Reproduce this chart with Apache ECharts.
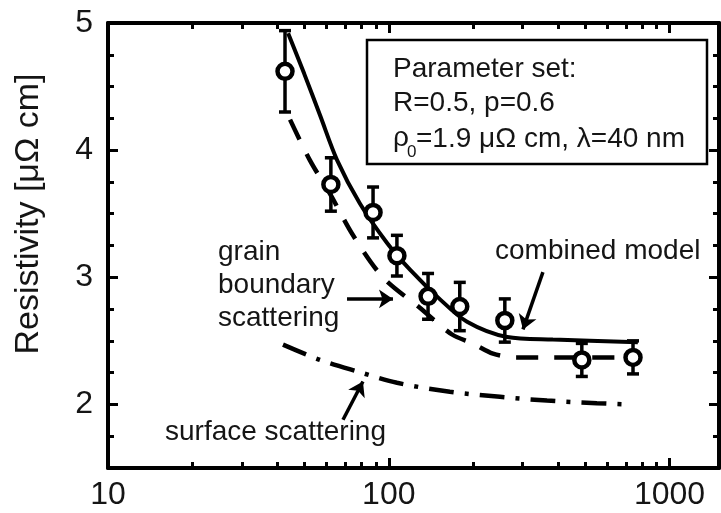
<!DOCTYPE html>
<html>
<head>
<meta charset="utf-8">
<script src="https://cdn.jsdelivr.net/npm/echarts@6/dist/echarts.min.js"></script>
<style>
  html, body { margin: 0; padding: 0; background: #fff; }
  #chart { width: 721px; height: 513px; }
</style>
</head>
<body>
<div id="chart"></div>
<script>
// measured film data (thickness in nm, resistivity in µΩ cm)
const sizeNm = [42.7, 62.2, 87.9, 106.9, 138, 179, 259, 487, 741];
const rhoMeas = [4.62, 3.73, 3.51, 3.17, 2.85, 2.77, 2.66, 2.35, 2.37];
const rhoErr = [0.32, 0.21, 0.20, 0.16, 0.18, 0.19, 0.17, 0.13, 0.13];

// model curves
const combinedX = [43.8, 50, 57, 65.5, 78.9, 98.6, 119, 150, 190, 264, 384, 771];
const combinedY = [4.92, 4.60, 4.27, 3.92, 3.58, 3.27, 3.06, 2.84, 2.65, 2.53, 2.51, 2.49];
const grainX = [44.5, 52.4, 62, 74.6, 95.3, 129, 168, 199, 235, 281, 391, 665, 770];
const grainY = [4.24, 3.92, 3.65, 3.33, 3.00, 2.76, 2.55, 2.48, 2.40, 2.37, 2.37, 2.37, 2.36];
const surfaceX = [42, 56.9, 77, 107, 165, 249, 366, 551, 705];
const surfaceY = [2.47, 2.35, 2.26, 2.17, 2.10, 2.06, 2.03, 2.01, 2.00];

// axis ticks
const xMajor = [10, 100, 1000];
const xMinor = [20, 30, 40, 50, 60, 70, 80, 90, 200, 300, 400, 500, 600, 700, 800, 900];
const yMajor = [2, 3, 4, 5];
const yMinor = [1.75, 2.25, 2.5, 2.75, 3.25, 3.5, 3.75, 4.25, 4.5, 4.75];

// annotation arrows [fromX, fromY, toX, toY]
const arrows = [
  [71, 2.83, 103.5, 2.83],
  [354, 3.04, 300.6, 2.59],
  [68.7, 1.88, 80.9, 2.18]
];

const lg = v => Math.log10(v);
const FONT = '"Liberation Sans", Arial, sans-serif';
const INK = '#151515';

function zip(xs, ys) {
  return xs.map((x, i) => [lg(x), ys[i]]);
}

function xAxisOf(position, ticks, len, withLine, withLabel) {
  return {
    type: 'value', position: position, min: 1, max: lg(1500),
    splitLine: { show: false },
    axisLine: { show: withLine, lineStyle: { color: '#000', width: 4 } },
    axisTick: { show: true, inside: true, length: len, customValues: ticks.map(lg),
      lineStyle: { color: '#000', width: 3 } },
    axisLabel: withLabel ? {
      show: true, customValues: ticks.map(lg), margin: 11,
      fontSize: 32, fontFamily: FONT, color: INK,
      formatter: v => String(Math.round(Math.pow(10, v)))
    } : { show: false }
  };
}

function yAxisOf(position, ticks, len, withLine, withLabel) {
  return {
    type: 'value', position: position, min: 1.5, max: 5,
    splitLine: { show: false },
    axisLine: { show: withLine, lineStyle: { color: '#000', width: 4 } },
    axisTick: { show: true, inside: true, length: len, customValues: ticks,
      lineStyle: { color: '#000', width: 3 } },
    axisLabel: withLabel ? {
      show: true, customValues: ticks, margin: 15,
      fontSize: 32, fontFamily: FONT, color: INK
    } : { show: false }
  };
}

const chart = echarts.init(document.getElementById('chart'));

const option = {
  animation: false,
  backgroundColor: '#fff',
  grid: { left: 108, top: 23, right: 2, bottom: 45, containLabel: false, outerBoundsMode: 'none' },
  xAxis: [
    xAxisOf('bottom', xMajor, 10, true, true),
    xAxisOf('bottom', xMinor, 6, false, false),
    xAxisOf('top', xMajor, 10, true, false),
    xAxisOf('top', xMinor, 6, false, false)
  ],
  yAxis: [
    yAxisOf('left', yMajor, 10, true, true),
    yAxisOf('left', yMinor, 6, false, false),
    yAxisOf('right', yMajor, 10, true, false),
    yAxisOf('right', yMinor, 6, false, false)
  ],
  series: [
    {
      name: 'combined model', type: 'line', data: zip(combinedX, combinedY),
      showSymbol: false, smooth: 0.3, z: 3,
      lineStyle: { color: '#000', width: 4 },
      markLine: {
        silent: true, animation: false,
        symbol: ['none', 'arrow'], symbolSize: 14,
        label: { show: false },
        lineStyle: { color: '#000', width: 3.5, type: 'solid' },
        data: arrows.map(a => [{ coord: [lg(a[0]), a[1]] }, { coord: [lg(a[2]), a[3]] }])
      }
    },
    {
      name: 'grain boundary scattering', type: 'line', data: zip(grainX, grainY),
      showSymbol: false, smooth: 0.3, z: 3,
      lineStyle: { color: '#000', width: 4.5, type: [22, 16] }
    },
    {
      name: 'surface scattering', type: 'line', data: zip(surfaceX, surfaceY),
      showSymbol: false, smooth: 0.3, z: 3,
      lineStyle: { color: '#000', width: 4.5, type: [25, 11, 4, 11] }
    },
    {
      name: 'error', type: 'custom', z: 4,
      data: sizeNm.map((x, i) => [lg(x), rhoMeas[i] - rhoErr[i], rhoMeas[i] + rhoErr[i]]),
      encode: { x: 0, y: [1, 2] },
      renderItem: function (params, api) {
        const x = api.value(0);
        const lo = api.coord([x, api.value(1)]);
        const hi = api.coord([x, api.value(2)]);
        const w = 6;
        const st = { stroke: '#000', lineWidth: 3.5 };
        return {
          type: 'group',
          children: [
            { type: 'line', shape: { x1: lo[0], y1: lo[1], x2: hi[0], y2: hi[1] }, style: st },
            { type: 'line', shape: { x1: lo[0] - w, y1: lo[1], x2: lo[0] + w, y2: lo[1] }, style: st },
            { type: 'line', shape: { x1: hi[0] - w, y1: hi[1], x2: hi[0] + w, y2: hi[1] }, style: st }
          ]
        };
      }
    },
    {
      name: 'measured', type: 'scatter', z: 5,
      data: zip(sizeNm, rhoMeas),
      symbol: 'circle', symbolSize: 15,
      itemStyle: { color: '#fff', borderColor: '#000', borderWidth: 4.5, opacity: 1 }
    }
  ],
  graphic: [
    {
      type: 'text', x: 29, y: 214, rotation: Math.PI / 2,
      style: { text: 'Resistivity [\u03bc\u03a9 cm]', font: '34px ' + FONT, fill: INK,
        align: 'center', verticalAlign: 'middle' }
    },
    {
      type: 'rect', shape: { x: 367, y: 40, width: 340, height: 124 }, z: 10,
      style: { fill: '#fff', stroke: '#000', lineWidth: 2.5 }
    },
    { type: 'text', x: 393, y: 69, z: 11,
      style: { text: 'Parameter set:', font: '28px ' + FONT, fill: INK, align: 'left', verticalAlign: 'middle' } },
    { type: 'text', x: 393, y: 103, z: 11,
      style: { text: 'R=0.5, p=0.6', font: '28px ' + FONT, fill: INK, align: 'left', verticalAlign: 'middle' } },
    { type: 'text', x: 393, y: 138, z: 11,
      style: { text: '\u03c1', font: '28px ' + FONT, fill: INK, align: 'left', verticalAlign: 'middle' } },
    { type: 'text', x: 407, y: 152, z: 11,
      style: { text: '0', font: '17px ' + FONT, fill: INK, align: 'left', verticalAlign: 'middle' } },
    { type: 'text', x: 416, y: 139, z: 11,
      style: { text: '=1.9 \u03bc\u03a9 cm, \u03bb=40 nm', font: '28px ' + FONT, fill: INK, align: 'left', verticalAlign: 'middle' } },
    { type: 'text', x: 218, y: 252,
      style: { text: 'grain', font: '28px ' + FONT, fill: INK, align: 'left', verticalAlign: 'middle' } },
    { type: 'text', x: 218, y: 285,
      style: { text: 'boundary', font: '28px ' + FONT, fill: INK, align: 'left', verticalAlign: 'middle' } },
    { type: 'text', x: 218, y: 318,
      style: { text: 'scattering', font: '28px ' + FONT, fill: INK, align: 'left', verticalAlign: 'middle' } },
    { type: 'text', x: 495, y: 251,
      style: { text: 'combined model', font: '28px ' + FONT, fill: INK, align: 'left', verticalAlign: 'middle' } },
    { type: 'text', x: 165, y: 432,
      style: { text: 'surface scattering', font: '28px ' + FONT, fill: INK, align: 'left', verticalAlign: 'middle' } }
  ]
};

chart.setOption(option);
</script>
</body>
</html>
